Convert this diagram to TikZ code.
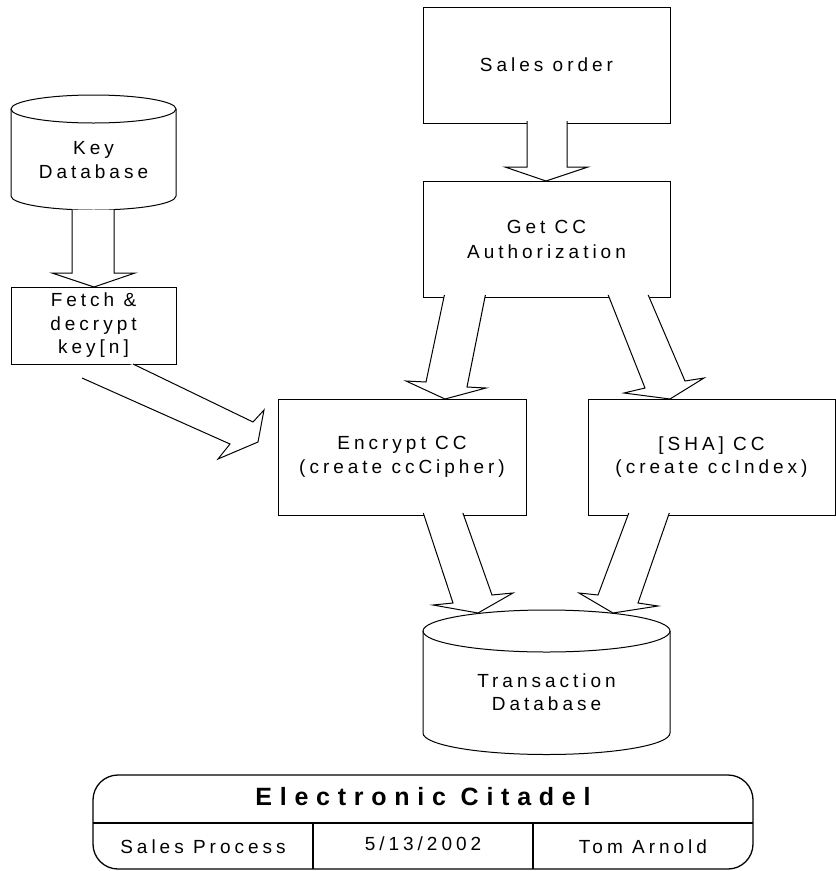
\documentclass[tikz,border=0pt]{standalone}
\usepackage{fontspec}
\newfontfamily\dfont{Liberation Sans}[LetterSpace=21]
\newfontfamily\tfont{Liberation Sans}[LetterSpace=31]
\begin{document}
\begin{tikzpicture}[x=1pt,y=-1pt,
  every node/.style={inner sep=0pt, outer sep=0pt},
  txt/.style={align=center, font=\dfont\fontsize{19}{23.5}\selectfont},
  box/.style={txt, draw, line width=1pt},
  barrow/.style={draw, fill=white, line width=1pt, line join=miter},
  cyl/.style={draw, line width=1pt},
  tb/.style={line width=1.3pt}]
\useasboundingbox (0,0) rectangle (836,871);

% boxes
\node[box, minimum width=247pt, minimum height=116pt] (sales) at (546.5,65) {Sales order};
\node[box, minimum width=247pt, minimum height=116pt] (getcc) at (546.5,239) {Get CC\\[1.5pt]Authorization};
\node[box, minimum width=165pt, minimum height=77pt] (fetch) at (93.5,325.5) {Fetch \&\\decrypt\\key[n]};
\node[box, minimum width=248pt, minimum height=116pt] (encrypt) at (402,457) {Encrypt CC\\(create ccCipher)};
\node[box, minimum width=247pt, minimum height=116pt] (sha) at (711.5,457) {[SHA] CC\\(create ccIndex)};

% Key database cylinder
\path[cyl] (11,109) -- (11,196) arc[start angle=180, end angle=360, x radius=82.5pt, y radius=14pt] -- (176,109);
\draw[line width=1pt] (93.5,109) ellipse[x radius=82.5pt, y radius=14pt];
\node[txt] (keydb) at (93.5,160) {Key\\Database};

% block arrows
\draw[barrow] (72,209.5) -- (72,273) -- (52,273) -- (94,287) -- (135,273) -- (114,273) -- (114,209.5);
\draw[barrow] (527,121) -- (527,167) -- (505,167) -- (546,181) -- (588,167) -- (567,167) -- (567,121);
\draw[barrow] (133,364) -- (253,422) -- (264,410) -- (258,442) -- (218,459) -- (230,444) -- (82,378);
\draw[barrow] (444.4,295) -- (426,382) -- (406,381) -- (445,399) -- (486,388) -- (467,387) -- (485.4,295);
\draw[barrow] (608.2,295) -- (645,388) -- (624,393) -- (670,399) -- (704,378) -- (685,381) -- (648.2,295);
\draw[barrow] (423.3,513) -- (453,603) -- (433,605) -- (478,613) -- (513,593) -- (492,595) -- (462.9,513);
\draw[barrow] (628.8,513) -- (598,595) -- (579,593) -- (613,613) -- (658,606) -- (638,603) -- (669.3,513);

% Transaction database cylinder
\path[cyl] (423,631) -- (423,733) arc[start angle=180, end angle=360, x radius=123.5pt, y radius=21.5pt] -- (670,631);
\draw[line width=1pt] (546.5,631) ellipse[x radius=123.5pt, y radius=21pt];
\node[txt] (transdb) at (546.5,692) {Transaction\\Database};

% title block
\draw[tb, rounded corners=25pt] (93,775) rectangle (753,869);
\draw[tb] (93,823) -- (753,823);
\draw[tb] (313,823) -- (313,869);
\draw[tb] (533,823) -- (533,869);
\node[font=\tfont\bfseries\fontsize{25}{30}\selectfont] (title) at (423,797) {Electronic Citadel};
\node[txt] (proc) at (203,847) {Sales Process};
\node[txt] (date) at (423,844) {5/13/2002};
\node[txt] (author) at (643,847) {Tom Arnold};
\end{tikzpicture}
\end{document}
